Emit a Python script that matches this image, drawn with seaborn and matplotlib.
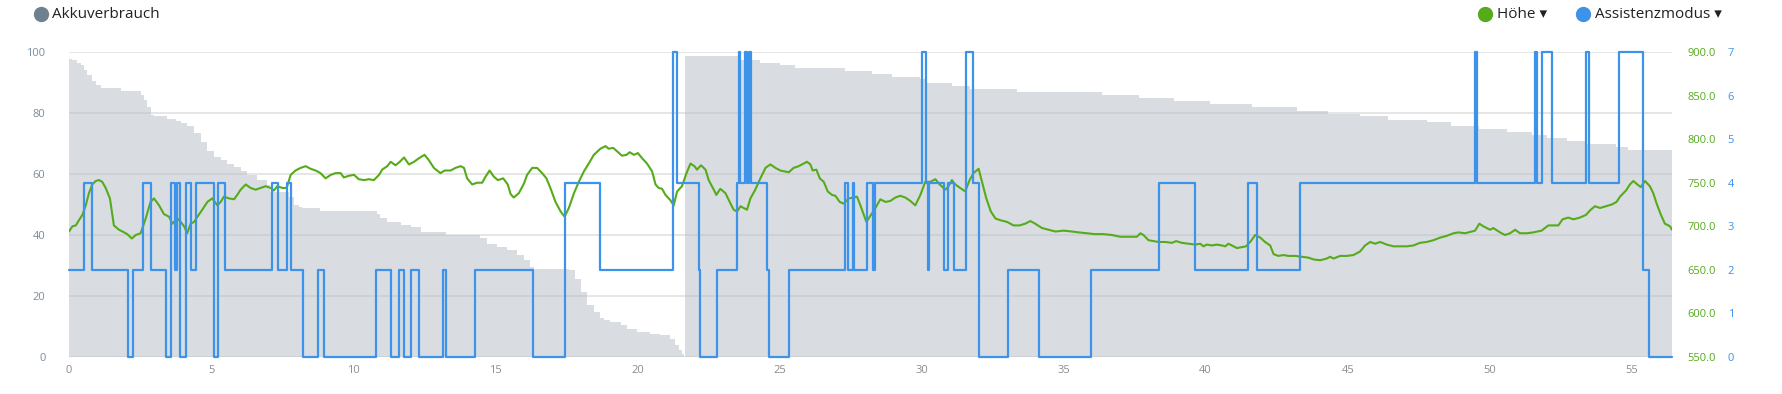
"""
Akkuverbrauch / Höhe / Assistenzmodus chart recreated with seaborn
"""

import matplotlib
matplotlib.use("Agg")
import matplotlib.pyplot as plt
from matplotlib.lines import Line2D
import seaborn as sns

# Akkuverbrauch (%), step values holding from each km until the next one
battery_km = [0.00, 0.12, 0.29, 0.41, 0.53, 0.65, 0.82, 0.94, 1.11, 1.82,
              2.52, 2.64, 2.76, 2.87, 2.99, 3.46, 3.75, 3.93, 4.16, 4.40,
              4.63, 4.87, 5.10, 5.34, 5.57, 5.80, 6.04, 6.27, 6.63, 6.98,
              7.09, 7.74, 7.91, 8.09, 8.21, 8.85, 10.85, 10.96, 11.20, 11.67,
              12.02, 12.37, 13.25, 14.48, 14.72, 15.07, 15.42, 15.77, 16.00, 16.24,
              16.36, 17.60, 17.82, 18.00, 18.23, 18.47, 18.70, 18.82, 19.05, 19.41,
              19.64, 19.99, 20.46, 20.81, 21.16, 21.34, 21.46, 21.58, 21.63, 21.67,
              23.63, 24.33, 25.03, 25.56, 27.32, 28.26, 28.96, 29.96, 30.19, 31.07,
              31.72, 33.36, 36.35, 37.65, 38.87, 40.16, 41.63, 43.21, 44.32, 45.43,
              46.43, 47.78, 48.62, 49.63, 50.62, 51.47, 52.02, 52.73, 53.43, 54.44,
              54.87, 56.41]
battery_pct = [97.8, 97.3, 96.4, 95.6, 94.2, 92.5, 90.4, 89.3, 88.2, 87.1,
               86.0, 84.3, 82.1, 79.4, 79.1, 78.1, 77.4, 76.7, 75.6, 73.4,
               70.6, 67.4, 65.7, 64.6, 63.3, 62.4, 61.1, 59.7, 58.0, 56.4,
               54.2, 52.6, 50.0, 49.3, 49.0, 48.0, 46.8, 45.7, 44.4, 43.3,
               42.5, 41.0, 40.0, 38.9, 37.2, 36.1, 35.0, 33.4, 31.8, 29.6,
               29.0, 28.5, 25.7, 21.4, 17.0, 14.8, 12.8, 12.0, 11.5, 10.4,
               9.3, 8.2, 7.7, 7.1, 6.0, 3.8, 2.2, 1.1, 0.0, 98.8,
               97.5, 96.4, 95.8, 94.7, 93.9, 92.9, 91.8, 91.1, 89.8, 88.9,
               87.8, 86.9, 86.0, 85.0, 83.8, 82.9, 81.9, 80.8, 79.7, 78.9,
               77.8, 76.9, 75.9, 74.8, 73.7, 72.8, 71.7, 70.9, 69.9, 68.8,
               67.9, 67.9]

# Höhe (m)
hoehe_km = [0.00, 0.12, 0.24, 0.35, 0.47, 0.59, 0.70, 0.82, 0.94, 1.06,
            1.17, 1.29, 1.44, 1.58, 1.76, 1.94, 2.05, 2.21, 2.35, 2.52,
            2.70, 2.87, 2.99, 3.17, 3.34, 3.52, 3.64, 3.81, 3.93, 4.05,
            4.16, 4.28, 4.40, 4.52, 4.69, 4.87, 5.04, 5.22, 5.34, 5.45,
            5.63, 5.81, 5.92, 6.04, 6.22, 6.39, 6.57, 6.74, 6.92, 7.10,
            7.21, 7.33, 7.51, 7.66, 7.80, 7.97, 8.15, 8.33, 8.50, 8.68,
            8.85, 9.03, 9.21, 9.38, 9.56, 9.67, 9.85, 10.03, 10.20, 10.38,
            10.55, 10.73, 10.91, 11.02, 11.20, 11.32, 11.49, 11.64, 11.79, 11.96,
            12.14, 12.31, 12.51, 12.66, 12.84, 13.07, 13.22, 13.43, 13.60, 13.78,
            13.90, 14.01, 14.19, 14.36, 14.54, 14.66, 14.80, 14.95, 15.09, 15.28,
            15.44, 15.54, 15.65, 15.83, 16.01, 16.12, 16.30, 16.47, 16.65, 16.80,
            16.94, 17.12, 17.30, 17.44, 17.59, 17.77, 17.94, 18.12, 18.29, 18.47,
            18.70, 18.88, 18.99, 19.15, 19.29, 19.46, 19.62, 19.73, 19.88, 20.02,
            20.17, 20.34, 20.52, 20.64, 20.75, 20.87, 20.99, 21.16, 21.28, 21.40,
            21.57, 21.73, 21.87, 22.01, 22.10, 22.24, 22.40, 22.51, 22.69, 22.78,
            22.92, 23.10, 23.28, 23.39, 23.51, 23.63, 23.74, 23.86, 23.98, 24.15,
            24.33, 24.51, 24.68, 24.86, 25.03, 25.33, 25.50, 25.68, 25.85, 25.97,
            26.09, 26.17, 26.30, 26.42, 26.56, 26.70, 26.85, 26.97, 27.12, 27.26,
            27.44, 27.61, 27.73, 27.85, 28.06, 28.20, 28.38, 28.55, 28.73, 28.90,
            29.08, 29.25, 29.43, 29.61, 29.78, 29.96, 30.13, 30.31, 30.49, 30.64,
            30.84, 30.95, 31.07, 31.19, 31.36, 31.54, 31.69, 31.83, 32.01, 32.13,
            32.28, 32.44, 32.60, 32.77, 33.01, 33.24, 33.45, 33.65, 33.83, 34.00,
            34.24, 34.47, 34.71, 35.00, 35.29, 35.53, 35.82, 36.11, 36.41, 36.70,
            36.99, 37.29, 37.58, 37.70, 37.81, 37.99, 38.17, 38.34, 38.58, 38.81,
            38.96, 39.16, 39.40, 39.63, 39.81, 39.92, 40.04, 40.22, 40.39, 40.57,
            40.69, 40.80, 40.98, 41.10, 41.27, 41.42, 41.59, 41.74, 41.92, 42.09,
            42.27, 42.39, 42.56, 42.74, 42.91, 43.15, 43.38, 43.62, 43.79, 44.03,
            44.26, 44.38, 44.50, 44.73, 44.97, 45.20, 45.43, 45.61, 45.79, 45.96,
            46.14, 46.37, 46.61, 46.84, 47.08, 47.31, 47.54, 47.78, 48.01, 48.25,
            48.48, 48.72, 48.89, 49.13, 49.36, 49.48, 49.63, 49.77, 50.01, 50.12,
            50.36, 50.53, 50.71, 50.89, 51.06, 51.30, 51.53, 51.82, 52.06, 52.23,
            52.41, 52.56, 52.76, 52.94, 53.17, 53.38, 53.55, 53.70, 53.88, 54.09,
            54.29, 54.46, 54.58, 54.79, 54.93, 55.05, 55.19, 55.31, 55.46, 55.63,
            55.75, 55.87, 56.01, 56.16, 56.34, 56.41]
hoehe_m = [694, 700, 701, 707, 713, 724, 738, 748, 752, 753,
           751, 744, 732, 701, 696, 693, 691, 686, 690, 692,
           709, 728, 732, 724, 714, 711, 703, 709, 705, 700,
           692, 703, 705, 711, 719, 728, 732, 724, 728, 734,
           732, 731, 736, 742, 748, 744, 742, 744, 746, 744,
           741, 746, 744, 744, 759, 764, 767, 769, 766, 764,
           761, 755, 759, 761, 761, 756, 758, 759, 754, 753,
           754, 753, 759, 765, 769, 774, 770, 774, 779, 771,
           774, 778, 782, 776, 767, 761, 764, 764, 767, 769,
           767, 755, 748, 750, 750, 757, 764, 757, 753, 755,
           748, 737, 733, 738, 749, 759, 767, 767, 761, 755,
           744, 728, 717, 711, 721, 738, 751, 763, 772, 782,
           789, 792, 789, 790, 786, 781, 782, 785, 782, 784,
           778, 772, 763, 748, 744, 743, 736, 730, 724, 740,
           746, 761, 772, 769, 765, 770, 765, 753, 742, 736,
           743, 738, 726, 719, 717, 723, 721, 719, 732, 742,
           755, 767, 771, 767, 764, 762, 767, 769, 772, 774,
           771, 764, 765, 755, 751, 740, 736, 735, 728, 726,
           732, 733, 734, 724, 705, 712, 721, 731, 728, 729,
           733, 735, 733, 729, 724, 736, 751, 751, 754, 748,
           742, 746, 753, 748, 744, 740, 753, 761, 766, 751,
           732, 717, 709, 707, 705, 701, 701, 703, 706, 703,
           698, 696, 694, 695, 694, 693, 692, 691, 691, 690,
           688, 688, 688, 692, 690, 684, 683, 682, 682, 681,
           683, 681, 680, 679, 680, 677, 679, 678, 679, 678,
           677, 680, 677, 675, 676, 677, 683, 690, 687, 682,
           678, 668, 666, 667, 666, 666, 665, 664, 662, 661,
           663, 665, 663, 666, 666, 667, 671, 678, 682, 680,
           682, 679, 677, 677, 677, 678, 681, 682, 684, 687,
           689, 692, 693, 692, 694, 695, 703, 700, 696, 698,
           693, 690, 692, 696, 692, 692, 693, 695, 701, 701,
           701, 708, 710, 708, 710, 713, 719, 723, 721, 723,
           725, 728, 734, 741, 748, 752, 748, 745, 752, 746,
           738, 726, 714, 703, 700, 696]

# Assistenzmodus (0-7), step values holding from each km until the next one
modus_km = [0.00, 0.53, 0.80, 2.09, 2.25, 2.59, 2.90, 3.40, 3.59, 3.72,
            3.80, 3.89, 4.13, 4.28, 4.46, 5.12, 5.26, 5.48, 7.14, 7.34,
            7.66, 7.81, 8.24, 8.77, 8.99, 10.79, 11.32, 11.62, 11.78, 12.02,
            12.30, 13.16, 13.26, 14.28, 16.32, 17.45, 18.67, 21.27, 21.39, 22.16,
            22.22, 22.81, 23.49, 23.57, 23.63, 23.80, 23.87, 23.92, 23.99, 24.57,
            24.65, 25.35, 27.30, 27.40, 27.58, 27.64, 28.08, 28.30, 28.36, 30.02,
            30.17, 30.22, 30.26, 30.80, 30.92, 31.16, 31.55, 31.80, 32.01, 33.04,
            34.12, 35.96, 38.34, 39.63, 41.48, 41.80, 43.32, 49.48, 49.56, 51.59,
            51.65, 51.82, 52.20, 53.37, 53.49, 54.54, 55.38, 55.61, 56.41]
modus_level = [2, 4, 2, 0, 2, 4, 2, 0, 4, 2,
               4, 0, 4, 2, 4, 0, 4, 2, 4, 2,
               4, 2, 0, 2, 0, 2, 0, 2, 0, 2,
               0, 2, 0, 2, 0, 4, 2, 7, 4, 2,
               0, 2, 4, 7, 4, 7, 4, 7, 4, 2,
               0, 2, 4, 2, 4, 2, 4, 2, 4, 7,
               4, 2, 4, 2, 4, 2, 7, 4, 0, 2,
               0, 2, 4, 2, 4, 2, 4, 7, 4, 7,
               4, 7, 4, 7, 4, 7, 2, 0, 0]

x_ticks = [0, 5, 10, 15, 20, 25, 30, 35, 40, 45, 50, 55]
pct_ticks = [0, 20, 40, 60, 80, 100]
hoehe_ticks = [550, 600, 650, 700, 750, 800, 850, 900]
modus_ticks = [0, 1, 2, 3, 4, 5, 6, 7]

GREEN = "#55ab1a"
BLUE = "#3d92ea"
AREA = "#b6bfc8"
GRID = "#e2e2e2"
AXIS_GREY = "#7b8b9b"

W, H = 1782, 394


def main():
    sns.set_theme(style="white")
    plt.rcParams["font.family"] = ["Open Sans", "DejaVu Sans"]

    fig = plt.figure(figsize=(W / 100, H / 100), dpi=100)
    left, right, top, bottom = 69, 1672, 52, 357
    ax = fig.add_axes([left / W, 1 - bottom / H, (right - left) / W, (bottom - top) / H])

    # battery area
    ax.fill_between(battery_km, battery_pct, step="post", color=AREA,
                    alpha=0.52, lw=0, zorder=2)
    ax.set_xlim(0, battery_km[-1])
    ax.set_ylim(0, 100)
    ax.set_xticks(x_ticks)
    ax.set_yticks(pct_ticks)
    ax.set_axisbelow(True)
    ax.yaxis.grid(True, color=GRID, lw=1.2)
    ax.xaxis.grid(False)
    for s in ax.spines.values():
        s.set_visible(False)
    ax.tick_params(axis="y", length=0, pad=17, labelsize=8, labelcolor=AXIS_GREY)
    ax.tick_params(axis="x", length=0, pad=6, labelsize=8, labelcolor="#8c8c8c")

    # Höhe
    ax_h = ax.twinx()
    sns.lineplot(x=hoehe_km, y=hoehe_m, ax=ax_h, color=GREEN, lw=1.5,
                 estimator=None, sort=False, legend=False)
    ax_h.set_ylim(550, 900)
    ax_h.set_yticks(hoehe_ticks)
    ax_h.set_yticklabels([f"{v:.1f}" for v in hoehe_ticks])
    ax_h.tick_params(axis="y", length=0, pad=11, labelsize=8, labelcolor=GREEN)

    # Assistenzmodus
    ax_m = ax.twinx()
    sns.lineplot(x=modus_km, y=modus_level, ax=ax_m, color=BLUE, lw=1.6,
                 drawstyle="steps-post", estimator=None, sort=False,
                 legend=False, clip_on=False)
    ax_m.set_ylim(0, 7)
    ax_m.set_yticks(modus_ticks)
    ax_m.tick_params(axis="y", length=0, pad=40, labelsize=8, labelcolor=BLUE)

    for a in (ax_h, ax_m):
        a.set_xlim(0, battery_km[-1])
        a.set_ylabel("")
        a.grid(False)
        for s in a.spines.values():
            s.set_visible(False)

    # legend row at the top
    y_leg = 1 - 14 / H
    items = [(41, 52, "#6f8090", "Akkuverbrauch"),
             (1485, 1497, GREEN, "Höhe ▾"),
             (1583, 1595, BLUE, "Assistenzmodus ▾")]
    for cx, tx, col, label in items:
        fig.add_artist(Line2D([cx / W], [y_leg], marker="o", ms=10, color=col,
                              lw=0, transform=fig.transFigure))
        fig.text(tx / W, y_leg, label, fontsize=11, color="#222222",
                 va="center", ha="left")

    fig.savefig("out.png", dpi=100)
    plt.close(fig)


if __name__ == "__main__":
    main()
